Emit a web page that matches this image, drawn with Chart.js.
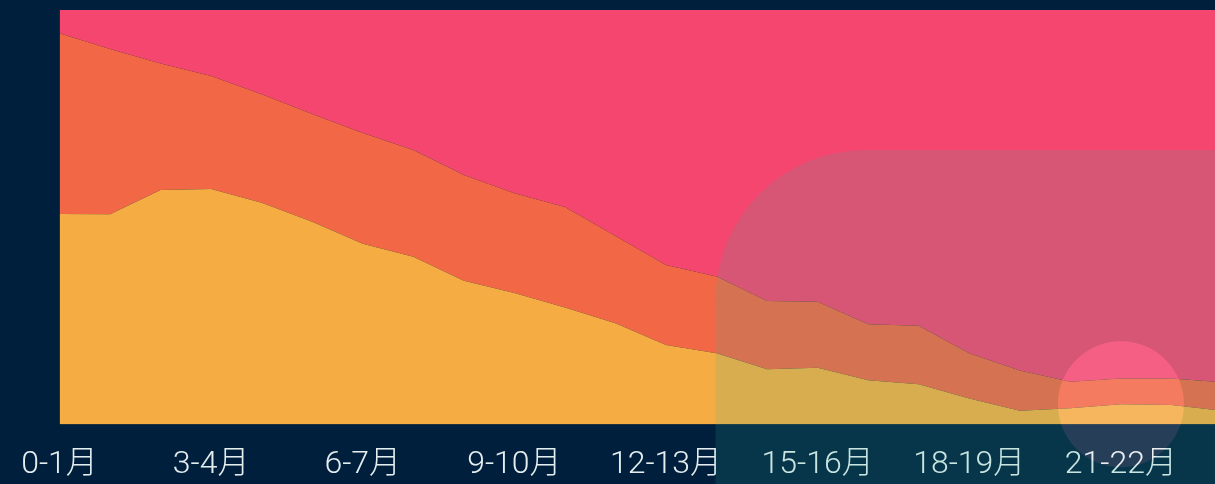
<!DOCTYPE html>
<html>
<head>
<meta charset="utf-8">
<script src="https://cdn.jsdelivr.net/npm/chart.js@4/dist/chart.umd.min.js"></script>
<style>
  html, body { margin: 0; padding: 0; background: #001f3d; overflow: hidden; }
  #wrap { position: relative; width: 1243px; height: 484px; }
</style>
</head>
<body>
<div id="wrap"><canvas id="areaChart"></canvas></div>
<script>
const months = ['0-1月','1-2月','2-3月','3-4月','4-5月','5-6月','6-7月','7-8月','8-9月','9-10月','10-11月','11-12月',
                '12-13月','13-14月','14-15月','15-16月','16-17月','17-18月','18-19月','19-20月','20-21月','21-22月','22-23月','23-24月'];
const lowShare  = [50.8,50.7,56.6,56.8,53.5,48.9,43.6,40.5,34.7,31.7,28.2,24.4,19.2,17.2,13.3,13.7,10.7,9.7,6.3,3.3,3.9,4.9,4.7,3.3];
const midShare  = [43.6,39.9,30.5,27.3,26.2,26.0,26.7,25.7,25.5,24.1,24.3,21.1,19.3,18.5,16.5,15.9,13.5,14.1,10.9,9.7,6.4,6.2,6.4,6.9];
const highShare = [5.6,9.4,12.9,15.9,20.3,25.1,29.7,33.8,39.8,44.2,47.5,54.5,61.5,64.3,70.2,70.4,75.8,76.2,82.8,87.0,89.7,88.9,88.9,89.8];

// page background painted into the canvas so the glow can add onto it
const backdrop = {
  id: 'backdrop',
  beforeDraw(chart) {
    const ctx = chart.ctx;
    ctx.save();
    ctx.fillStyle = '#001f3d';
    ctx.fillRect(0, 0, chart.width, chart.height);
    ctx.restore();
  }
};

// decoration: translucent panel from 13-14月 onwards, glow on the 21-22月 point
const decor = {
  id: 'decor',
  afterDraw(chart) {
    const ctx = chart.ctx, xs = chart.scales.x, ys = chart.scales.y;
    const left = xs.getPixelForValue(13) - 1, top = 150, r = 150;
    ctx.save();
    ctx.fillStyle = 'rgba(50,180,155,0.15)';
    ctx.beginPath();
    ctx.roundRect(left, top, chart.width - left + 200, chart.height - top + 200, r);
    ctx.fill();
    ctx.globalCompositeOperation = 'lighter';
    ctx.fillStyle = 'rgb(31,9,14)';
    ctx.beginPath();
    ctx.arc(xs.getPixelForValue(21), ys.getPixelForValue(lowShare[21]), 63, 0, Math.PI * 2);
    ctx.fill();
    ctx.restore();
  }
};

new Chart(document.getElementById('areaChart').getContext('2d'), {
  type: 'line',
  data: {
    labels: months,
    datasets: [
      { data: lowShare,  backgroundColor: '#f5ac43', fill: 'origin' },
      { data: midShare,  backgroundColor: '#f26745', fill: '-1' },
      { data: highShare, backgroundColor: '#f54670', fill: '-1' }
    ]
  },
  options: {
    responsive: true,
    maintainAspectRatio: false,
    animation: false,
    events: [],
    layout: { padding: { left: 59.5, right: 8, top: 10, bottom: 0 } },
    elements: {
      point: { radius: 0 },
      line: { borderWidth: 0, tension: 0 }
    },
    plugins: { legend: { display: false }, tooltip: { enabled: false } },
    scales: {
      x: {
        offset: false,
        border: { display: false },
        grid: { display: false, drawTicks: false },
        afterFit: (scale) => { scale.height = 59.5; },
        ticks: {
          autoSkip: false,
          maxRotation: 0,
          padding: 21,
          color: '#e4eeee',
          font: { family: 'Roboto, "Noto Sans CJK SC", sans-serif', size: 32, weight: 300 },
          callback: (v, i) => i % 3 === 0 ? months[i] : ''
        }
      },
      y: {
        display: false,
        stacked: true,
        min: 0,
        max: 100
      }
    }
  },
  plugins: [backdrop, decor]
});
</script>
</body>
</html>
